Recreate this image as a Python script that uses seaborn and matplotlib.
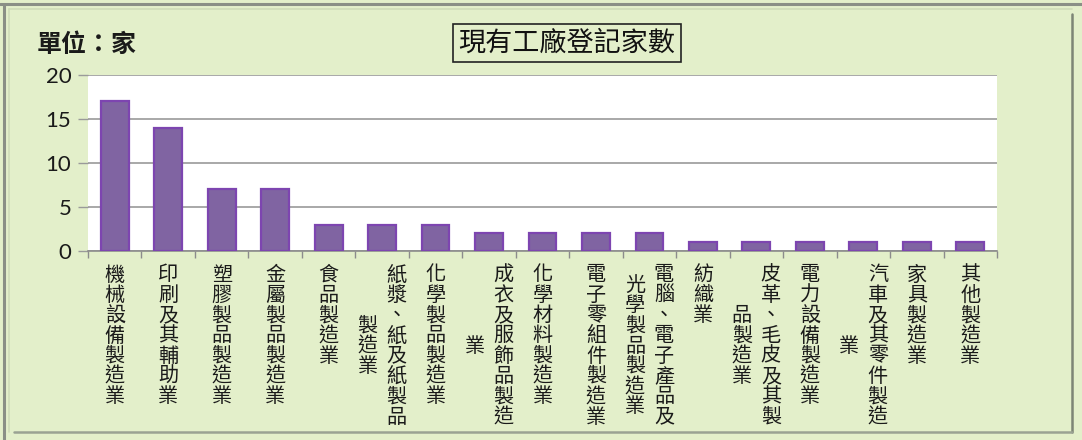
import matplotlib
matplotlib.use('Agg')
import matplotlib.pyplot as plt
import seaborn as sns
from matplotlib.lines import Line2D

# data
categories = ['機械設備製造業', '印刷及其輔助業', '塑膠製品製造業', '金屬製品製造業',
              '食品製造業', '紙漿、紙及紙製品製造業', '化學製品製造業', '成衣及服飾品製造業',
              '化學材料製造業', '電子零組件製造業', '電腦、電子產品及光學製品製造業',
              '紡織業', '皮革、毛皮及其製品製造業', '電力設備製造業', '汽車及其零件製造業',
              '家具製造業', '其他製造業']
counts = [17, 14, 7, 7, 3, 3, 3, 2, 2, 2, 2, 1, 1, 1, 1, 1, 1]
y_ticks = [0, 5, 10, 15, 20]
title = '現有工廠登記家數'
unit_label = '單位：家'

sns.set_theme(style='white')
cjk = ['Noto Sans CJK TC', 'DejaVu Sans']
plt.rcParams['font.family'] = cjk

bg = '#e3efca'
fig = plt.figure(figsize=(10.82, 4.4), dpi=100)
fig.patch.set_facecolor(bg)

# frame lines like the spreadsheet chart border
W, H = 1082, 440
def fline(x0, y0, x1, y1, c, lw):
    fig.add_artist(Line2D([x0 / W, x1 / W], [1 - y0 / H, 1 - y1 / H],
                          transform=fig.transFigure, color=c, lw=lw))
fline(0, 4, W, 4, '#8a8f86', 2.2)
fline(4, 4, 4, H, '#8a8f86', 2.2)
fline(9, 9, 1072, 9, '#cfdcb8', 1.2)
fline(9, 9, 9, 432, '#cfdcb8', 1.2)
fline(1072, 14, 1072, 432, '#7d8576', 1.8)
fline(14, 432, 1072, 432, '#9aa293', 1.8)

ax = fig.add_axes([88 / W, 1 - 251 / H, (997 - 88) / W, (251 - 75) / H])
ax.set_facecolor('white')

sns.barplot(x=categories, y=counts, color='#8064a2', width=0.52,
            edgecolor='#7d45b0', linewidth=1.6, saturation=1, ax=ax, zorder=3)

ax.set_ylim(0, 20)
ax.set_xlim(-0.5, len(categories) - 0.5)
ax.set_yticks(y_ticks)
ax.set_yticklabels([str(t) for t in y_ticks], fontsize=16, color='#1a1a1a',
                   family=['Lato', 'DejaVu Sans'])
ax.yaxis.grid(True, color='#9a9a9a', lw=1.2, zorder=0)
ax.set_axisbelow(True)
for s in ['top', 'right', 'left']:
    ax.spines[s].set_visible(False)
ax.spines['bottom'].set_color('#8c8c8c')
ax.spines['bottom'].set_linewidth(1.2)
ax.tick_params(axis='y', left=True, length=7, width=1, color='#9a9a9a', pad=5)
ax.set_xticks([i - 0.5 for i in range(len(categories) + 1)])
ax.set_xticklabels([])
ax.tick_params(axis='x', bottom=True, length=5, width=1, color='#8c8c8c', direction='out')
ax.set_xlabel('')
ax.set_ylabel('')

# vertical category labels, wrapped into columns of 8 characters
pitch = 20.3 * 0.72
col_gap = 29 * 0.72
first = 24 * 0.72
for i, name in enumerate(categories):
    cols = [name[k:k + 8] for k in range(0, len(name), 8)]
    n = len(cols)
    longest = max(len(c) for c in cols)
    for j, col in enumerate(cols):
        dx = ((n - 1) / 2 - j) * col_gap
        start = (longest - len(col)) / 2 * pitch
        for k, ch in enumerate(col):
            ax.annotate(ch, xy=(i, 0), xycoords=('data', 'axes fraction'),
                        xytext=(dx, -(first + start + k * pitch)),
                        textcoords='offset points', ha='center', va='center',
                        fontsize=14.5, color='#1a1a1a', annotation_clip=False)

fig.text(37 / W, 1 - 45 / H, unit_label, fontsize=18, fontweight='bold',
         ha='left', va='center', color='#1a1a1a')
fig.text(567 / W, 1 - 43 / H, title, fontsize=19.5, ha='center', va='center',
         color='#111111',
         bbox=dict(boxstyle='square,pad=0.2', facecolor='none', edgecolor='#222222', lw=1.2))

fig.savefig('out.png', dpi=100, facecolor=bg)
